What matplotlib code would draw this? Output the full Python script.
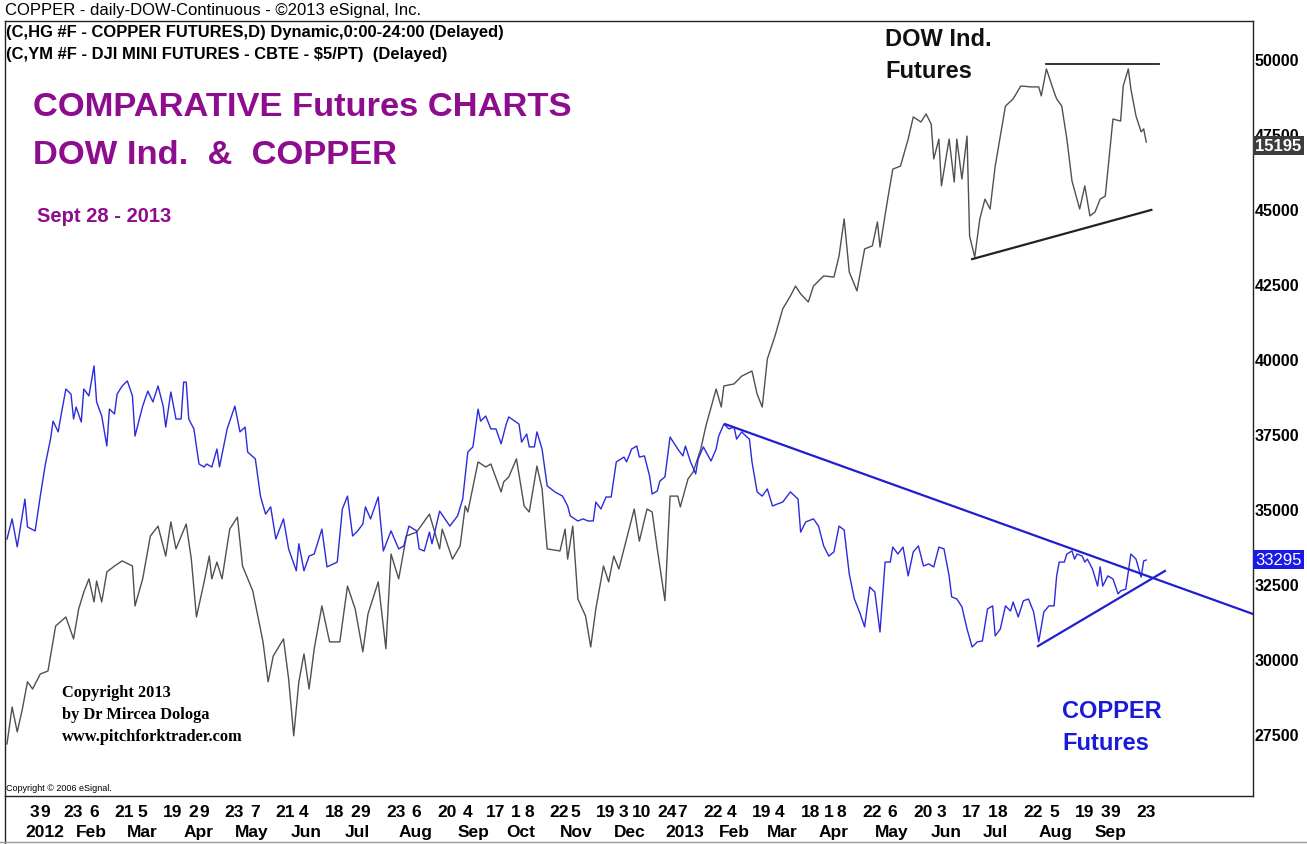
import matplotlib
matplotlib.use("Agg")
import matplotlib.pyplot as plt
import matplotlib.transforms as mtransforms
import pandas as pd

plt.rcParams["font.family"] = ["Liberation Sans", "DejaVu Sans"]

# trading calendar for the x axis, index 0 = 2011-12-19
holidays = ["2011-12-26", "2012-01-02", "2012-01-16", "2012-02-20", "2012-04-06",
            "2012-05-28", "2012-07-04", "2012-09-03", "2012-10-29", "2012-10-30",
            "2012-11-22", "2012-12-25", "2013-01-01", "2013-01-21", "2013-02-18",
            "2013-03-29", "2013-05-27", "2013-07-04", "2013-09-02"]
days = pd.bdate_range("2011-12-19", "2013-09-27", freq="C", holidays=holidays)

# DOW futures (drawn on the chart's right scale), trading day index / value
dow_t = [0, 2, 4, 6, 8, 10, 13, 16, 17, 19,
         23, 26, 28, 30, 32, 34, 35, 37, 39, 42,
         45, 49, 50, 53, 56, 59, 62, 64, 66, 70,
         72, 74, 77, 79, 80, 82, 84, 87, 90, 92,
         96, 100, 102, 104, 108, 110, 112, 114, 116, 118,
         120, 123, 126, 130, 133, 136, 139, 141, 145, 148,
         150, 153, 156, 160, 165, 169, 170, 174, 177, 179,
         180, 184, 187, 189, 193, 194, 196, 199, 202, 204,
         207, 209, 211, 216, 218, 219, 221, 223, 226, 228,
         230, 233, 235, 237, 239, 245, 247, 250, 252, 254,
         257, 259, 262, 263, 266, 268, 271, 273, 277, 279,
         280, 284, 287, 291, 293, 295, 297, 300, 303, 306,
         308, 310, 313, 315, 319, 323, 325, 327, 329, 332,
         335, 338, 340, 341, 344, 346, 349, 352, 354, 357,
         359, 361, 362, 364, 365, 368, 370, 371, 373, 375,
         376, 378, 380, 382, 384, 386, 388, 390, 393, 396,
         400, 403, 404, 406, 409, 410, 412, 414, 416, 419,
         421, 423, 425, 427, 429, 432, 435, 436, 438, 439,
         441, 443, 444, 445]
dow_v = [27170, 28400, 27570, 28330, 29240, 29000, 29500, 29600, 30100, 31100,
         31400, 30670, 31670, 32230, 32670, 31900, 32600, 31900, 32900, 33100,
         33270, 33100, 31770, 32670, 34100, 34430, 33430, 34570, 33670, 34500,
         33330, 31400, 32570, 33430, 32670, 33230, 32670, 34330, 34730, 33100,
         32270, 30570, 29240, 30100, 30670, 29340, 27440, 29240, 30170, 29000,
         30340, 31770, 30570, 30570, 32430, 31670, 30240, 31500, 32570, 30340,
         33500, 32670, 34100, 34230, 34830, 33670, 34330, 33330, 33770, 35100,
         34900, 36570, 36400, 36500, 35570, 35900, 36070, 36670, 35100, 34900,
         36430, 35670, 33670, 33600, 34330, 33330, 34430, 32000, 31430, 30400,
         31670, 33100, 32570, 33430, 33000, 35000, 33930, 35000, 34900, 33670,
         31940, 35430, 35430, 35070, 36000, 36230, 37000, 37770, 39000, 38400,
         39100, 39170, 39430, 39600, 38830, 38400, 40000, 40770, 41670, 42100,
         42430, 42170, 41900, 42430, 42770, 42730, 43430, 44670, 42900, 42270,
         43670, 43770, 44570, 43730, 45330, 46330, 46430, 47330, 48070, 47900,
         48170, 47830, 46670, 47330, 45770, 47330, 45900, 47330, 46000, 47430,
         44100, 43400, 44670, 45330, 45000, 46430, 47430, 48430, 48670, 49100,
         49070, 49070, 48770, 49670, 48900, 48670, 48430, 47330, 45930, 45000,
         45770, 44770, 44900, 45330, 45430, 48000, 47930, 49100, 49670, 49000,
         48100, 47570, 47670, 47230]

# COPPER futures
cu_t = [0, 2, 4, 7, 8, 11, 13, 15, 17, 18,
        20, 21, 23, 25, 26, 27, 29, 30, 32, 34,
        35, 37, 39, 40, 42, 43, 45, 47, 49, 50,
        53, 55, 57, 59, 61, 62, 64, 66, 68, 69,
        70, 71, 73, 75, 77, 78, 80, 82, 83, 86,
        89, 91, 93, 94, 97, 99, 101, 103, 105, 108,
        110, 113, 114, 116, 118, 120, 123, 125, 129, 131,
        133, 135, 137, 139, 140, 142, 145, 147, 150, 153,
        155, 157, 160, 161, 163, 165, 166, 169, 173, 176,
        178, 180, 182, 184, 185, 187, 189, 191, 193, 195,
        196, 200, 201, 203, 204, 206, 207, 209, 211, 214,
        217, 219, 220, 223, 225, 227, 229, 230, 232, 234,
        236, 238, 241, 242, 244, 246, 247, 249, 251, 252,
        254, 255, 257, 259, 262, 264, 265, 267, 269, 270,
        272, 275, 277, 278, 280, 282, 284, 285, 287, 289,
        290, 291, 293, 295, 297, 299, 301, 303, 306, 309,
        310, 312, 315, 317, 319, 321, 323, 325, 327, 329,
        331, 333, 335, 337, 339, 341, 343, 345, 346, 348,
        350, 352, 354, 356, 358, 360, 362, 364, 366, 368,
        369, 371, 373, 375, 377, 379, 381, 383, 385, 386,
        388, 390, 392, 393, 395, 397, 399, 401, 403, 405,
        407, 409, 410, 411, 413, 414, 416, 417, 418, 420,
        421, 422, 424, 426, 427, 428, 430, 432, 434, 435,
        437, 439, 441, 443, 444, 445]
cu_v = [34000, 34670, 33740, 35330, 34400, 34270, 35430, 36500, 37330, 37930,
        37570, 38070, 39000, 38830, 38000, 38400, 37900, 39000, 38770, 39770,
        38570, 38100, 37100, 38330, 38170, 38830, 39100, 39270, 38770, 37430,
        38430, 38930, 38570, 39100, 38430, 37730, 38900, 38000, 38000, 39230,
        39230, 38000, 37670, 36500, 36400, 36500, 36400, 37000, 36400, 37670,
        38430, 37570, 37730, 36900, 36670, 35430, 34830, 35070, 34000, 34670,
        33670, 32940, 33840, 32940, 33430, 33500, 34330, 33070, 33230, 35000,
        35430, 34100, 34270, 34500, 35070, 34670, 35400, 33600, 34270, 33670,
        33770, 34430, 34270, 33670, 33600, 34230, 33840, 34930, 34430, 34770,
        35330, 36900, 37070, 38330, 37930, 38100, 37670, 37670, 37170, 37830,
        38070, 37830, 37230, 37500, 37070, 37070, 37570, 37000, 35770, 35570,
        35430, 35100, 34770, 34600, 34670, 34600, 34600, 35230, 35000, 35400,
        35400, 36570, 36730, 36570, 37000, 37100, 36730, 36770, 36100, 35500,
        35600, 35930, 36070, 37400, 37000, 36770, 37100, 36570, 36170, 36670,
        37070, 36600, 37000, 37430, 37830, 37670, 37730, 37330, 37570, 37400,
        37330, 36570, 35570, 35430, 35670, 35100, 35170, 35230, 35570, 35330,
        34230, 34570, 34670, 34430, 33770, 33430, 33570, 34430, 34300, 32830,
        32000, 31570, 31070, 32400, 32230, 30900, 33230, 33230, 33730, 33500,
        33730, 32770, 33570, 33770, 33100, 33170, 33070, 33730, 33670, 32770,
        32070, 32000, 31740, 31000, 30400, 30570, 30600, 31670, 31770, 30770,
        31000, 31770, 31600, 31900, 31400, 31940, 32000, 31570, 30570, 31570,
        31770, 31770, 32770, 33230, 33230, 33500, 33600, 33330, 33500, 33430,
        33230, 33330, 33000, 32430, 33070, 32430, 32770, 32670, 32170, 32270,
        32330, 33500, 33330, 32730, 33270, 33300]

# hand drawn trend lines (t, value)
dow_top_t, dow_top_v = [406, 450], [49830, 49830]
dow_low_t, dow_low_v = [377, 447], [43330, 44970]
cu_top_t, cu_top_v = [280.5, 486.7], [37830, 31500]
cu_low_t, cu_low_v = [402.7, 452.3], [30430, 32935]

dow_last_label = "15195"
cu_last_label = "33295"

y_ticks = [27500, 30000, 32500, 35000, 37500, 40000, 42500, 45000, 47500, 50000]

day_ticks = ["2012-01-03", "2012-01-09", "2012-01-23", "2012-02-06", "2012-02-21",
             "2012-03-05", "2012-03-19", "2012-04-02", "2012-04-09", "2012-04-23",
             "2012-05-07", "2012-05-21", "2012-06-04", "2012-06-18", "2012-07-02",
             "2012-07-09", "2012-07-23", "2012-08-06", "2012-08-20", "2012-09-04",
             "2012-09-17", "2012-10-01", "2012-10-08", "2012-10-22", "2012-11-05",
             "2012-11-19", "2012-12-03", "2012-12-10", "2012-12-24", "2013-01-07",
             "2013-01-22", "2013-02-04", "2013-02-19", "2013-03-04", "2013-03-18",
             "2013-04-01", "2013-04-08", "2013-04-22", "2013-05-06", "2013-05-20",
             "2013-06-03", "2013-06-17", "2013-07-01", "2013-07-08", "2013-07-22",
             "2013-08-05", "2013-08-19", "2013-09-03", "2013-09-09", "2013-09-23"]

W, H = 1307, 845
fig = plt.figure(figsize=(W / 100, H / 100), dpi=100)
fig.patch.set_facecolor("white")


def fx(px):
    return px / W


def fy(py):
    return 1 - py / H


ax = fig.add_axes([fx(5), fy(797), fx(1253) - fx(5), fy(22) - fy(797)])
ax.set_xlim(-0.78, 486.7)
ax.set_ylim(25433, 51267)

ax.plot(dow_t, dow_v, color="#505050", lw=1.0)
ax.plot(cu_t, cu_v, color="#2b2bdc", lw=1.0)
ax.plot(dow_top_t, dow_top_v, color="#222222", lw=1.3)
ax.plot(dow_low_t, dow_low_v, color="#222222", lw=1.6)
ax.plot(cu_top_t, cu_top_v, color="#1f1fd0", lw=1.6)
ax.plot(cu_low_t, cu_low_v, color="#1f1fd0", lw=1.6)

for s in ax.spines.values():
    s.set_linewidth(1.0)
    s.set_color("#222222")

ax.yaxis.tick_right()
ax.set_yticks(y_ticks)
ax.set_yticklabels([str(v) for v in y_ticks], fontsize=11.5, fontweight="bold")
ax.tick_params(axis="y", length=0, pad=1)
ax.set_xticks([])

# last value boxes on the right scale (the Dow box sits over the 47500 label, as in the source)
trans = mtransforms.blended_transform_factory(ax.transAxes, ax.transData)
ax.text(1.002, dow_v[-1] - 100, dow_last_label, transform=trans, ha="left", va="center",
        fontsize=12, fontweight="bold", color="white", zorder=10, clip_on=False,
        bbox=dict(boxstyle="square,pad=0.12", fc="#3c3c3c", ec="none"))
ax.text(1.002, cu_v[-1], cu_last_label, transform=trans, ha="left", va="center",
        fontsize=12, color="white", zorder=10, clip_on=False,
        bbox=dict(boxstyle="square,pad=0.12", fc="#1a1ae6", ec="none"))

# date axis: day numbers and month names
xt = ax.get_xaxis_transform()
for d in day_ticks:
    pos = days.get_loc(pd.Timestamp(d))
    ax.text(pos, -0.0206, str(pd.Timestamp(d).day), transform=xt, ha="left",
            va="center", fontsize=12.5, fontweight="bold", clip_on=False)
months = pd.period_range("2012-01", "2013-09", freq="M")
for m in months:
    in_month = days[(days.year == m.year) & (days.month == m.month)]
    pos = days.get_loc(in_month[0])
    label = str(m.year) if m.month == 1 else in_month[0].strftime("%b")
    ax.text(pos - 2, -0.0452, label, transform=xt, ha="left", va="center",
            fontsize=12.5, fontweight="bold", clip_on=False)

# frame of the date strip
fig.add_artist(plt.Line2D([fx(5), fx(5)], [fy(797), fy(845)], color="#222222", lw=1.0))
fig.add_artist(plt.Line2D([fx(0), fx(1307)], [fy(843), fy(843)], color="#9a9a9a", lw=1.0))

# header texts
fig.text(fx(5), fy(11), "COPPER - daily-DOW-Continuous - \u00a92013 eSignal, Inc.",
         fontsize=12, va="center", ha="left")
fig.text(fx(6), fy(33), "(C,HG #F - COPPER FUTURES,D) Dynamic,0:00-24:00 (Delayed)",
         fontsize=11.9, fontweight="bold", va="center", ha="left")
fig.text(fx(6), fy(55), "(C,YM #F - DJI MINI FUTURES - CBTE - $5/PT)  (Delayed)",
         fontsize=11.9, fontweight="bold", va="center", ha="left")

purple = "#8e0c8e"
fig.text(fx(33), fy(108), "COMPARATIVE Futures CHARTS", fontsize=24.8,
         fontweight="bold", color=purple, va="center", ha="left")
fig.text(fx(33), fy(155), "DOW Ind.  &  COPPER", fontsize=24.8,
         fontweight="bold", color=purple, va="center", ha="left")
fig.text(fx(37), fy(217), "Sept 28 - 2013", fontsize=14.5,
         fontweight="bold", color=purple, va="center", ha="left")

fig.text(fx(885), fy(40), "DOW Ind.", fontsize=17, fontweight="bold",
         color="#111111", va="center", ha="left")
fig.text(fx(885), fy(72), "Futures", fontsize=17, fontweight="bold",
         color="#111111", va="center", ha="left")
fig.text(fx(1062), fy(712), "COPPER", fontsize=17, fontweight="bold",
         color="#1a1ad8", va="center", ha="left")
fig.text(fx(1062), fy(744), "Futures", fontsize=17, fontweight="bold",
         color="#1a1ad8", va="center", ha="left")

serif = ["Liberation Serif", "DejaVu Serif"]
for py, line in [(693, "Copyright 2013"), (715, "by Dr Mircea Dologa"),
                 (737, "www.pitchforktrader.com")]:
    fig.text(fx(62), fy(py), line, fontsize=11.8, fontweight="bold",
             family=serif, va="center", ha="left")
fig.text(fx(6), fy(789), "Copyright \u00a9 2006 eSignal.", fontsize=6.5,
         va="center", ha="left")

fig.savefig("out.png", dpi=100, facecolor="white")
